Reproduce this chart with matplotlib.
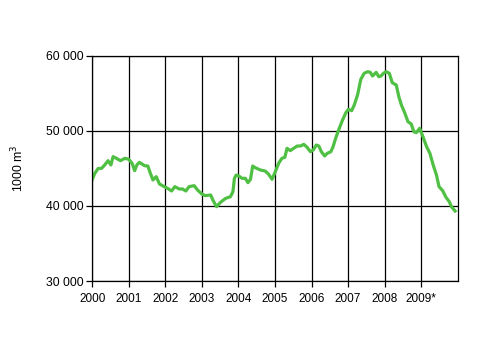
import matplotlib
matplotlib.use("Agg")
import matplotlib.pyplot as plt
from matplotlib.ticker import FuncFormatter

# decimal year, value (1000 m3)
years = [2000.00, 2000.07, 2000.16, 2000.25, 2000.34, 2000.43, 2000.51, 2000.57,
         2000.66, 2000.77, 2000.89, 2001.00, 2001.09, 2001.16, 2001.22, 2001.29,
         2001.43, 2001.52, 2001.59, 2001.66, 2001.75, 2001.84, 2001.97, 2002.06,
         2002.17, 2002.26, 2002.38, 2002.47, 2002.56, 2002.65, 2002.79, 2002.88,
         2003.00, 2003.09, 2003.24, 2003.30, 2003.40, 2003.51, 2003.65, 2003.78,
         2003.85, 2003.89, 2003.94, 2004.01, 2004.10, 2004.19, 2004.26, 2004.33,
         2004.39, 2004.46, 2004.60, 2004.73, 2004.82, 2004.92, 2005.01, 2005.10,
         2005.19, 2005.27, 2005.33, 2005.42, 2005.51, 2005.61, 2005.70, 2005.79,
         2005.88, 2005.97, 2006.05, 2006.13, 2006.20, 2006.27, 2006.36, 2006.43,
         2006.53, 2006.59, 2006.66, 2006.76, 2006.85, 2006.94, 2007.01, 2007.10,
         2007.17, 2007.26, 2007.35, 2007.44, 2007.54, 2007.61, 2007.67, 2007.77,
         2007.84, 2007.90, 2007.97, 2008.04, 2008.13, 2008.21, 2008.32, 2008.39,
         2008.46, 2008.55, 2008.64, 2008.73, 2008.80, 2008.87, 2008.96, 2009.05,
         2009.15, 2009.24, 2009.33, 2009.42, 2009.49, 2009.59, 2009.68, 2009.77,
         2009.83, 2009.93]
values = [43556, 44356, 45000, 45000, 45470, 46040, 45470, 46580,
          46360, 46040, 46360, 46220, 45690, 44710, 45470, 45820,
          45380, 45330, 44360, 43470, 43910, 42930, 42580, 42360,
          42000, 42580, 42270, 42270, 42000, 42580, 42710, 42130,
          41600, 41380, 41470, 40800, 39910, 40490, 41020, 41240,
          41910, 43690, 44130, 44000, 43690, 43690, 43110, 43560,
          45330, 45110, 44800, 44670, 44270, 43560, 44580, 45690,
          46360, 46490, 47690, 47380, 47690, 48000, 48000, 48220,
          47820, 47240, 47470, 48130, 48000, 47240, 46670, 47020,
          47240, 47910, 49020, 50360, 51470, 52440, 52890, 52710,
          53470, 54800, 56890, 57690, 57910, 57820, 57330, 57820,
          57240, 57330, 57690, 57910, 57690, 56440, 56130, 54580,
          53470, 52440, 51240, 50930, 49910, 49780, 50360, 49240,
          47910, 47020, 45470, 44130, 42580, 42040, 41160, 40580,
          39910, 39330]

year_ticks = [2000, 2001, 2002, 2003, 2004, 2005, 2006, 2007, 2008, 2009]
year_labels = ["2000", "2001", "2002", "2003", "2004", "2005", "2006", "2007", "2008", "2009*"]
y_ticks = [30000, 40000, 50000, 60000]

plt.rcParams["font.family"] = ["Liberation Sans", "DejaVu Sans"]

fig = plt.figure(figsize=(4.98, 3.45), dpi=100)
ax = fig.add_axes([0.1853, 0.1855, 0.7337, 0.6522])

ax.plot(years, values, color="#4fc043", linewidth=2.3, solid_joinstyle="round")

ax.set_xlim(2000, 2010)
ax.set_ylim(30000, 60000)
ax.set_xticks(year_ticks)
ax.set_xticklabels(year_labels)
ax.set_yticks(y_ticks)
ax.yaxis.set_major_formatter(FuncFormatter(lambda v, p: f"{int(v):,}".replace(",", " ")))

ax.grid(True, color="black", linewidth=0.9)
ax.set_axisbelow(True)
for s in ax.spines.values():
    s.set_color("black")
    s.set_linewidth(0.9)
ax.tick_params(axis="both", direction="out", length=4, width=0.9, labelsize=8.8, pad=2.5)
ax.tick_params(axis="x", labelsize=8.5, pad=4.5)

ax.set_ylabel("1000 m$^3$", fontsize=8.8, labelpad=14)

fig.savefig("out.png", dpi=100)
